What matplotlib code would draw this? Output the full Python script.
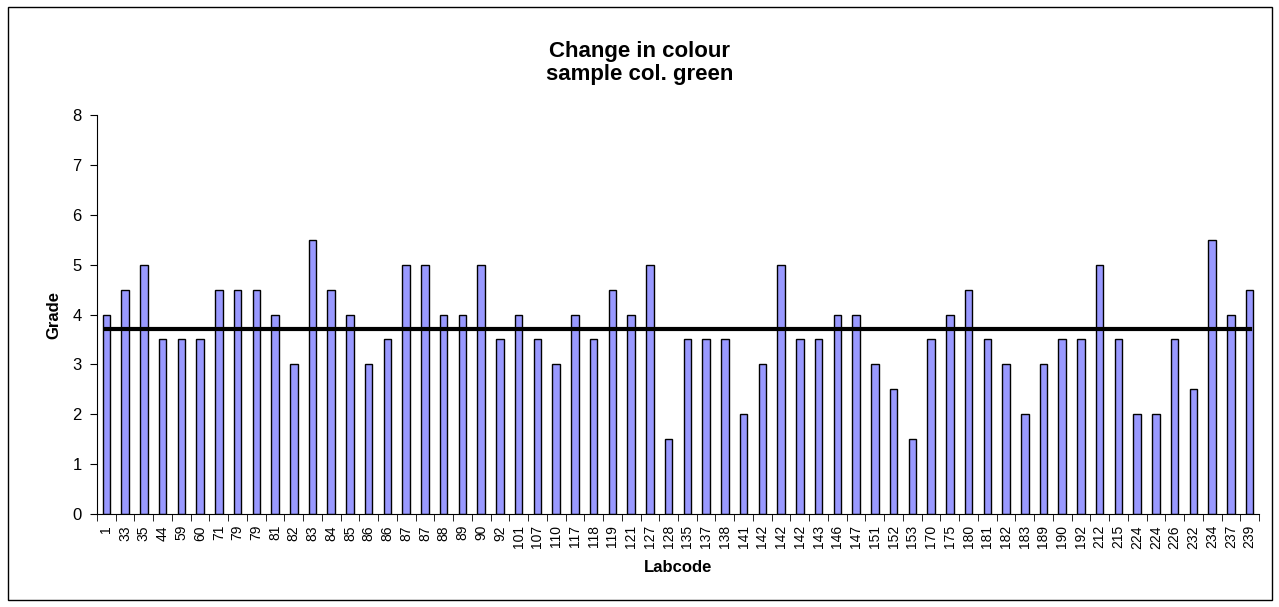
import matplotlib
matplotlib.use("Agg")
import matplotlib.pyplot as plt
from matplotlib.patches import Rectangle
import numpy as np

plt.rcParams['font.family'] = ['Liberation Sans', 'DejaVu Sans']

# lab codes (x categories) and the grade each lab gave
labcodes = ["1", "33", "35", "44", "59", "60", "71", "79", "79", "81", "82", "83",
            "84", "85", "86", "86", "87", "87", "88", "89", "90", "92", "101", "107",
            "110", "117", "118", "119", "121", "127", "128", "135", "137", "138", "141",
            "142", "142", "142", "143", "146", "147", "151", "152", "153", "170", "175",
            "180", "181", "182", "183", "189", "190", "192", "212", "215", "224", "224",
            "226", "232", "234", "237", "239"]
grades = [4, 4.5, 5, 3.5, 3.5, 3.5, 4.5, 4.5, 4.5, 4, 3, 5.5,
          4.5, 4, 3, 3.5, 5, 5, 4, 4, 5, 3.5, 4, 3.5,
          3, 4, 3.5, 4.5, 4, 5, 1.5, 3.5, 3.5, 3.5, 2,
          3, 5, 3.5, 3.5, 4, 4, 3, 2.5, 1.5, 3.5, 4,
          4.5, 3.5, 3, 2, 3, 3.5, 3.5, 5, 3.5, 2, 2,
          3.5, 2.5, 5.5, 4, 4.5]
mean_grade = np.mean(grades)

fig = plt.figure(figsize=(12.79, 6.07), dpi=100)
ax = fig.add_axes([0.0758, 0.1532, 0.9086, 0.6573])

x = np.arange(len(labcodes))
ax.bar(x, grades, width=0.4, color="#9999FF", edgecolor="black", linewidth=1, zorder=2)
ax.plot([x[0], x[-1]], [mean_grade, mean_grade], color="black", linewidth=3, zorder=3)

ax.set_xlim(-0.5, len(labcodes) - 0.5)
ax.set_ylim(0, 8)
ax.set_yticks(range(0, 9))
ax.tick_params(axis="y", direction="out", length=5, pad=6, labelsize=12)

# Excel-style: ticks at category boundaries, labels at centres
ax.set_xticks(x)
ax.set_xticklabels(labcodes, rotation=90, fontsize=10)
ax.tick_params(axis="x", which="major", length=0, pad=8)
ax.set_xticks(np.arange(len(labcodes) + 1) - 0.5, minor=True)
ax.tick_params(axis="x", which="minor", direction="out", length=5)

for s in ["top", "right"]:
    ax.spines[s].set_visible(False)

ax.set_xlabel("Labcode", fontsize=12, fontweight="bold", labelpad=8)
ax.set_ylabel("Grade", fontsize=12, fontweight="bold", labelpad=8)
fig.text(0.5, 0.896, "Change in colour\nsample col. green", ha="center", va="center",
         fontsize=16, fontweight="bold", linespacing=1.15)

fig.patches.append(Rectangle((0.00625, 0.0115), 0.9883, 0.977, transform=fig.transFigure,
                             fill=False, edgecolor="black", linewidth=1))

fig.savefig("out.png", dpi=100)
